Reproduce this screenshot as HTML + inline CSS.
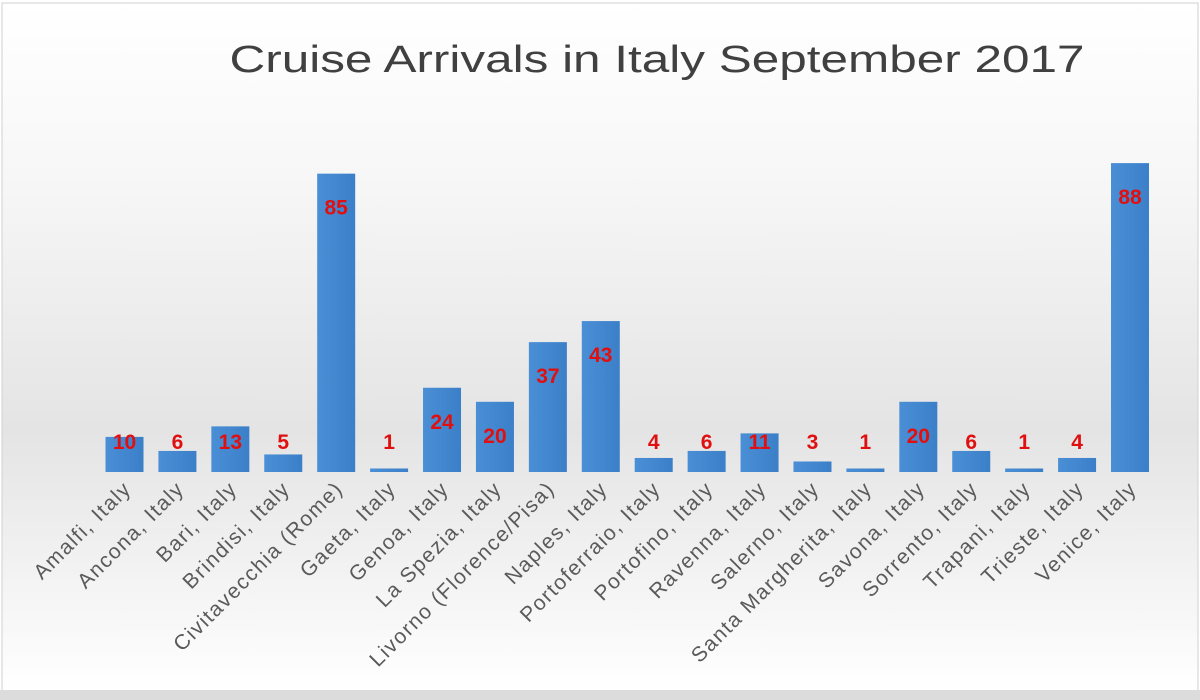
<!DOCTYPE html>
<html><head><meta charset="utf-8"><style>
body{margin:0;background:#fff}
svg{display:block;font-family:"Liberation Sans",sans-serif}
</style></head><body>
<svg width="1200" height="700" viewBox="0 0 1200 700">
<defs>
<linearGradient id="bg" x1="0" y1="0" x2="0" y2="1">
<stop offset="0" stop-color="#ffffff"/>
<stop offset="0.25" stop-color="#f7f7f7"/>
<stop offset="0.62" stop-color="#e4e4e4"/>
<stop offset="0.85" stop-color="#f4f4f4"/>
<stop offset="1" stop-color="#ffffff"/>
</linearGradient>
<linearGradient id="bar" x1="0" y1="0" x2="1" y2="0">
<stop offset="0" stop-color="#4a8fd6"/>
<stop offset="1" stop-color="#3b7fc8"/>
</linearGradient>
</defs>
<rect x="0" y="0" width="1200" height="700" fill="#fff"/>
<rect x="2" y="3" width="1196" height="688" fill="url(#bg)" stroke="#d0d0d0"/>
<rect x="0" y="690" width="1200" height="10" fill="#dcdcdc"/>
<text x="657" y="72" text-anchor="middle" font-size="38" fill="#404040" textLength="855" lengthAdjust="spacingAndGlyphs">Cruise Arrivals in Italy September 2017</text>
<g id="bars"></g>
<g id="labels"></g>
</svg>
<script>
const categories=["Amalfi, Italy","Ancona, Italy","Bari, Italy","Brindisi, Italy","Civitavecchia (Rome)","Gaeta, Italy","Genoa, Italy","La Spezia, Italy","Livorno (Florence/Pisa)","Naples, Italy","Portoferraio, Italy","Portofino, Italy","Ravenna, Italy","Salerno, Italy","Santa Margherita, Italy","Savona, Italy","Sorrento, Italy","Trapani, Italy","Trieste, Italy","Venice, Italy"];
const values=[10,6,13,5,85,1,24,20,37,43,4,6,11,3,1,20,6,1,4,88];
const NS="http://www.w3.org/2000/svg";
const baseY=472, pxPerUnit=3.51, x0=124.5, step=(1130-124.5)/19, bw=38;
const xScale=i=>x0+i*step;
const yScale=v=>baseY-v*pxPerUnit;
const gb=document.getElementById('bars'), gl=document.getElementById('labels');
categories.forEach((c,i)=>{
  const cx=xScale(i), top=yScale(values[i]);
  const r=document.createElementNS(NS,'rect');
  r.setAttribute('x',cx-bw/2);r.setAttribute('y',top);
  r.setAttribute('width',bw);r.setAttribute('height',baseY-top);
  r.setAttribute('fill','url(#bar)');
  
  
  gb.appendChild(r);
  const t=document.createElementNS(NS,'text');
  t.setAttribute('x',cx);t.setAttribute('y',Math.min(top+34,442)+7);
  t.setAttribute('text-anchor','middle');t.setAttribute('font-size','21');
  t.setAttribute('font-weight','bold');t.setAttribute('fill','#e01010');
  t.textContent=values[i];
  
  
  gb.appendChild(t);
  const l=document.createElementNS(NS,'text');
  l.setAttribute('transform','translate('+(cx+8)+',490) rotate(-45)');
  l.setAttribute('text-anchor','end');l.setAttribute('font-size','21');
  l.setAttribute('letter-spacing','1.5');
  l.setAttribute('fill','#5a5a5a');
  l.textContent=c;
  
  
  gl.appendChild(l);
});
</script>
</body></html>
